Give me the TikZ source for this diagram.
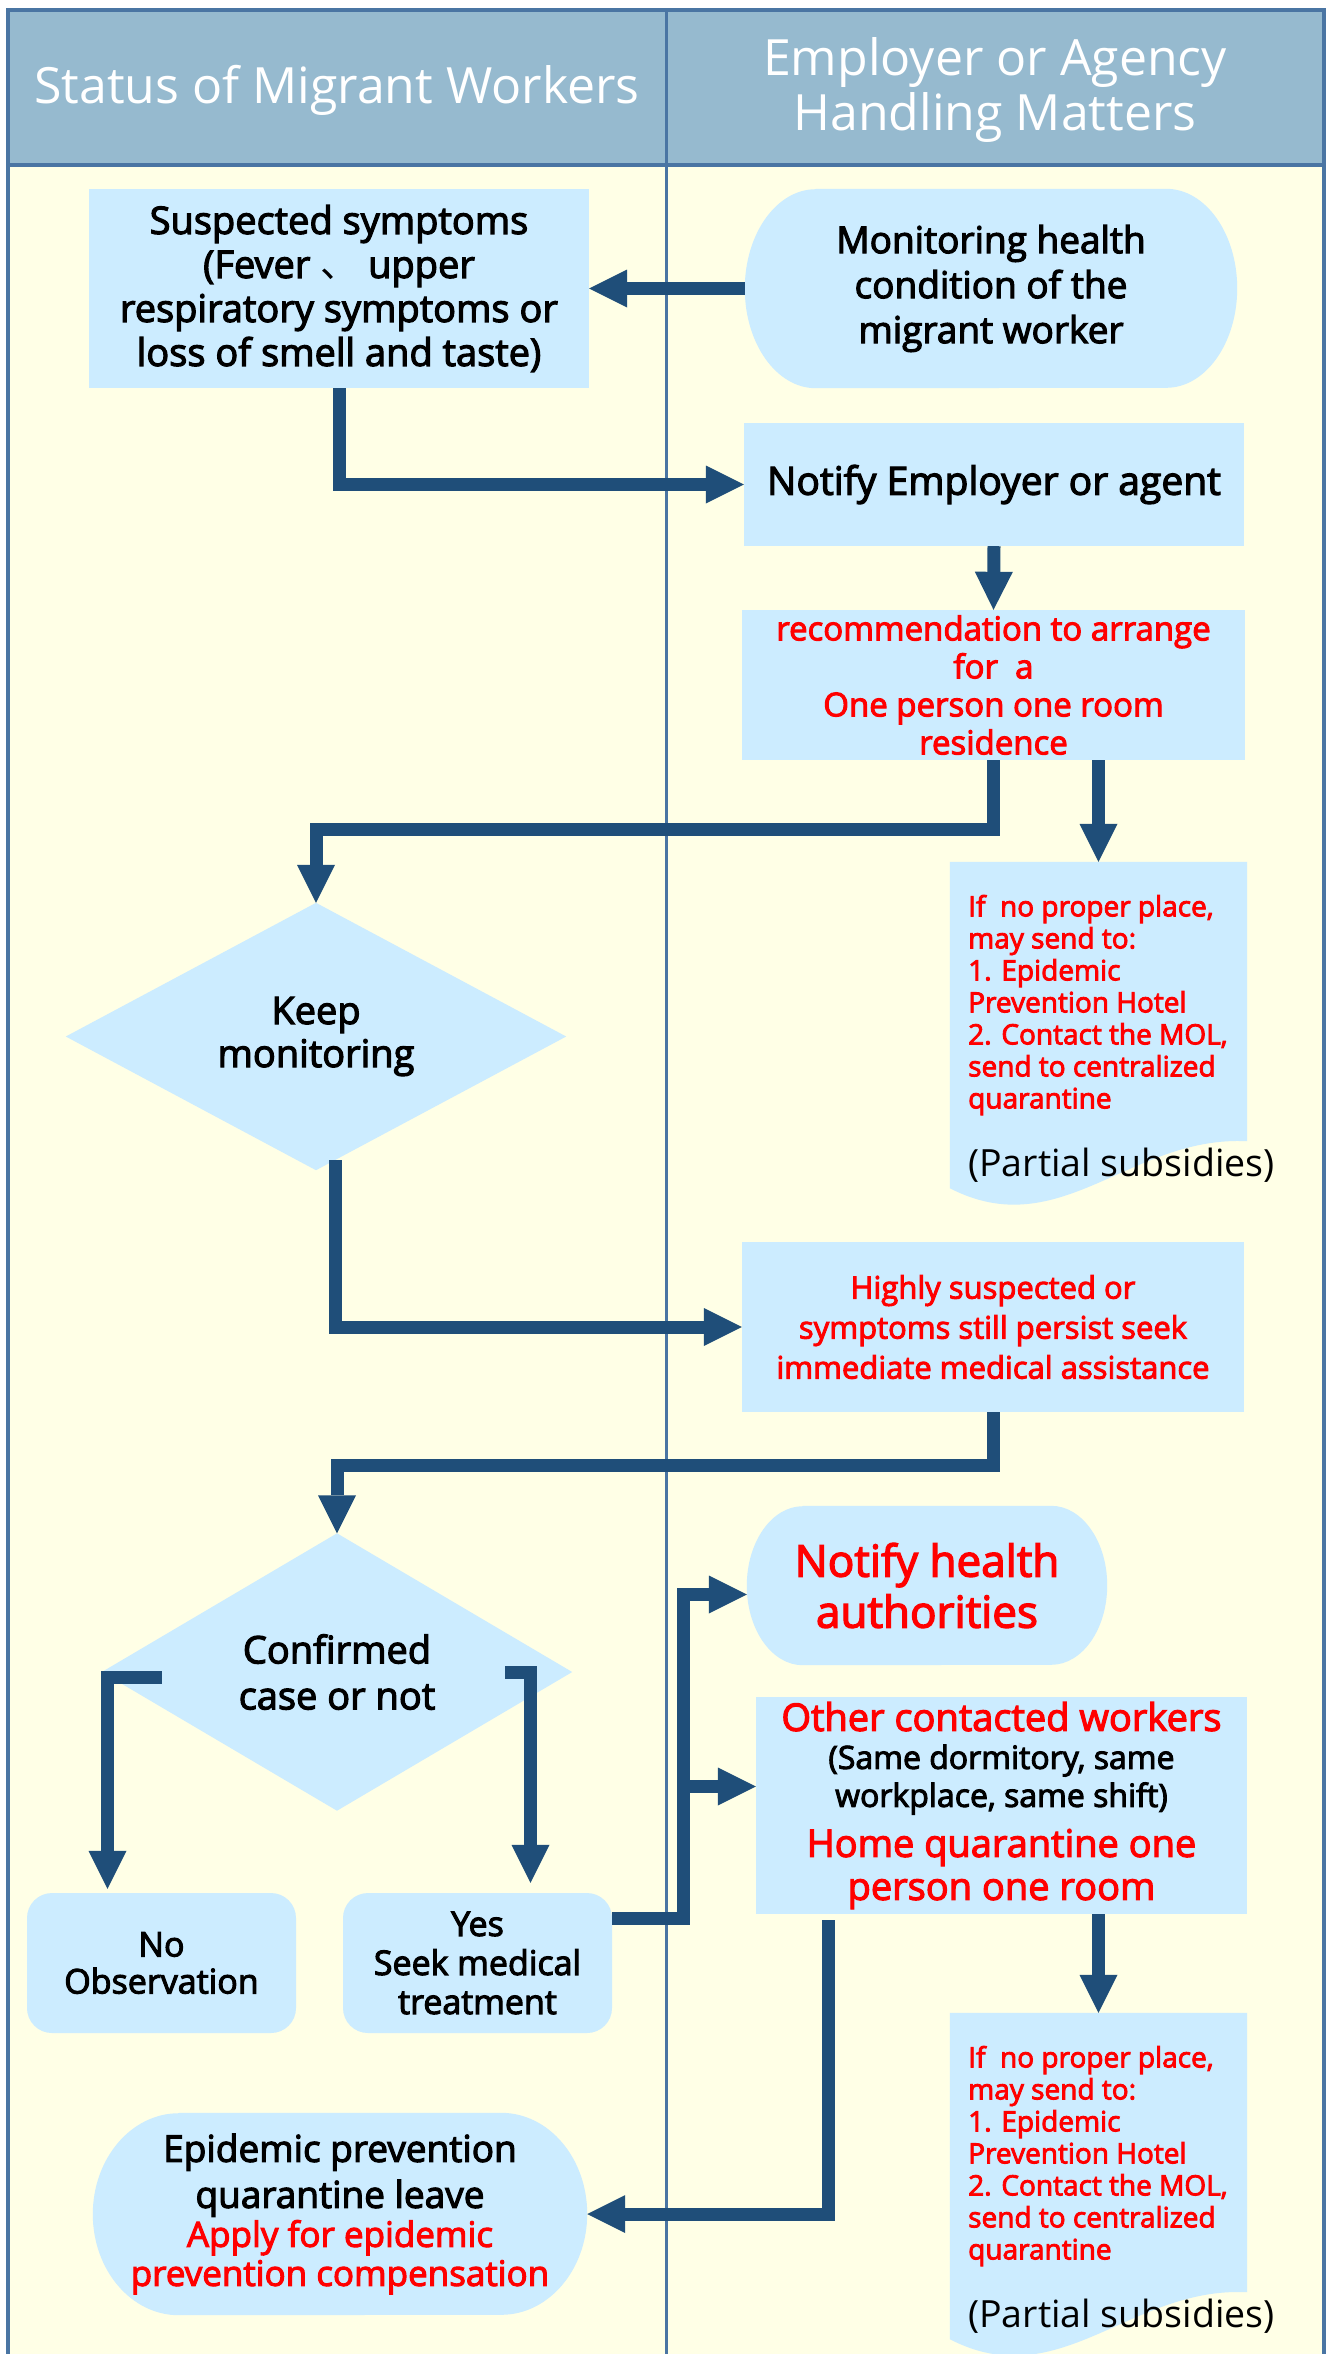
\documentclass[tikz,border=0pt]{standalone}
\usepackage{fontspec}
\setmainfont{Open Sans}
\newfontfamily\semib{Open Sans}[FakeBold=3]
\newfontfamily\cjkf{Noto Sans CJK SC}
\usetikzlibrary{arrows.meta,backgrounds,calc}
\definecolor{bgyellow}{RGB}{255,255,230}
\definecolor{hdrfill}{RGB}{150,186,207}
\definecolor{framecol}{RGB}{74,117,163}
\definecolor{boxfill}{RGB}{204,236,255}
\definecolor{arrowblue}{RGB}{31,78,121}

\newcommand\stadfill[3]{%
  \fill[boxfill] ([xshift=#2]#1.north west) -- ([xshift=-#2]#1.north east)
    arc[start angle=90,end angle=-90,x radius=#2,y radius=#3]
    -- ([xshift=#2]#1.south west)
    arc[start angle=270,end angle=90,x radius=#2,y radius=#3] -- cycle;}
\newcommand\docfill[1]{%
  \fill[boxfill] (#1.north west) -- (#1.north east) -- ([yshift=47pt]#1.south east)
    .. controls ([shift={(-117pt,53pt)}]#1.south east) and ([shift={(-187pt,-57pt)}]#1.south east) .. (#1.south west) -- cycle;}

\tikzset{
  box/.style={fill=boxfill, inner sep=0pt, align=center, font=\semib\fontsize{38}{44}\selectfont},
  shapebox/.style={inner sep=0pt, align=center, font=\semib\fontsize{38}{44}\selectfont},
  redtext/.style={text=red},
  hdr/.style={text=white, align=center, inner sep=0pt, font=\fontsize{50}{55}\selectfont},
  doctext/.style={anchor=west, align=left, inner sep=0pt, text=red, font=\semib\fontsize{28}{32}\selectfont},
  partial/.style={anchor=west, inner sep=0pt, font=\fontsize{37.5}{44}\selectfont},
  arr/.style={color=arrowblue, line width=13pt, -{Triangle[length=38pt,width=38pt,line width=0pt]}},
}

\begin{document}
\begin{tikzpicture}[x=1pt,y=-1pt]
\useasboundingbox (0,0) rectangle (1333,2354);

% header
\node[hdr] (h1) at (337,90) {Status of Migrant Workers};
\node[hdr] (h2) at (995,90) {Employer or Agency\\Handling Matters};

% nodes
\node[box, minimum width=500pt, minimum height=199pt] (susp) at (339,288.5)
  {Suspected symptoms\\(Fever {\cjkf 、} upper\\respiratory symptoms or\\loss of smell and taste)};
\node[shapebox, minimum width=492pt, minimum height=199pt, font=\semib\fontsize{37}{45}\selectfont] (mon) at (991,288.5)
  {Monitoring health\\condition of the\\migrant worker};
\node[box, minimum width=500pt, minimum height=123pt, font=\semib\fontsize{39}{44}\selectfont] (notify) at (994,484.5)
  {Notify Employer or agent};
\node[box, redtext, minimum width=503pt, minimum height=150pt, font=\semib\fontsize{33}{38}\selectfont] (rec) at (993.5,685)
  {recommendation to arrange\\for\ \ a\\One person one room\\residence};
\node[shapebox, minimum width=297pt, minimum height=326pt] (doca) at (1098.5,1025) {};
\node[doctext] (dta) at (968,1005)
  {If\ \ no proper place,\\may send to:\\1. Epidemic\\Prevention Hotel\\2. Contact the MOL,\\send to centralized\\quarantine};
\node[partial] (pa) at (968,1165) {(Partial subsidies)};
\node[shapebox, minimum width=500pt, minimum height=267pt, font=\semib\fontsize{38}{43}\selectfont] (keep) at (316,1036.5)
  {Keep\\monitoring};
\node[box, redtext, minimum width=502pt, minimum height=170pt, font=\semib\fontsize{31}{40}\selectfont] (high) at (993,1327)
  {Highly suspected or\\symptoms still persist seek\\immediate medical assistance};
\node[shapebox, minimum width=470pt, minimum height=277pt, font=\semib\fontsize{38}{46}\selectfont] (conf) at (337,1672)
  {Confirmed\\case or not};
\node[shapebox, redtext, minimum width=360pt, minimum height=159pt, font=\semib\fontsize{44}{51}\selectfont] (health) at (927,1585.5)
  {Notify health\\authorities};
\node[box, minimum width=491pt, minimum height=217pt, font=\semib\fontsize{38}{38}\selectfont] (other) at (1001.5,1805.5)
  {{\color{red}Other contacted workers}\\
   {\fontsize{32}{38}\selectfont (Same dormitory, same}\\
   {\fontsize{32}{38}\selectfont workplace, same shift)}\\[12pt]
   {\color{red}Home quarantine one}\\[5pt]
   {\color{red}person one room}};
\node[box, rounded corners=25pt, minimum width=269pt, minimum height=140pt, font=\semib\fontsize{34}{37}\selectfont] (nobox) at (161.5,1963)
  {No\\Observation};
\node[box, rounded corners=25pt, minimum width=269pt, minimum height=140pt, font=\semib\fontsize{34}{39}\selectfont] (yesbox) at (477.5,1963)
  {Yes\\Seek medical\\treatment};
\node[shapebox, minimum width=494pt, minimum height=202pt, font=\semib\fontsize{37}{39}\selectfont] (epi) at (340,2214)
  {Epidemic prevention\\[7pt]quarantine leave\\
   {\color{red}\fontsize{35}{39}\selectfont Apply for epidemic}\\
   {\color{red}\fontsize{35}{39}\selectfont prevention compensation}};
\node[shapebox, minimum width=297pt, minimum height=326pt] (docb) at (1098.5,2176) {};
\node[doctext] (dtb) at (968,2156)
  {If\ \ no proper place,\\may send to:\\1. Epidemic\\Prevention Hotel\\2. Contact the MOL,\\send to centralized\\quarantine};
\node[partial] (pb) at (968,2316) {(Partial subsidies)};

% connectors
\draw[arr] (mon.west) -- (susp.east);
\draw[arr] (susp.south) |- (notify.west);
\draw[arr] (notify.south) -- (rec.north);
\draw[arr] (rec.south) -- ++(0,69) -| (keep.north);
\draw[arr] (rec.south -| doca.north) -- (doca.north);
\draw[arr] ([xshift=19pt,yshift=10pt]keep.south) |- (high.west);
\draw[arr] (high.south) -- ++(0,53) -| (conf.north);
\draw[arr, shorten >=4pt] ([xshift=60pt,yshift=-5pt]conf.west) -| ([xshift=-54pt]nobox.north);
\draw[arr, shorten >=10pt] ([xshift=-67pt]conf.east) -| ([xshift=53pt]yesbox.north);
\draw[arr] ([yshift=45pt]yesbox.east) -- ++(71,0) coordinate (jn) |- ([yshift=-9pt]health.west);
\draw[arr] (jn) |- ([yshift=19pt]other.west);
\draw[arr] ([xshift=-173pt,yshift=-6pt]other.south) |- (epi.east);
\draw[arr] (other.south -| docb.north) -- (docb.north);

% background
\begin{scope}[on background layer]
  \fill[white] (0,0) rectangle (1333,2354);
  \fill[bgyellow] (8,165) rectangle (1324,2360);
  \fill[hdrfill] (8,10) rectangle (1324,165);
  \stadfill{mon}{71pt}{99.5pt}
  \stadfill{health}{56pt}{79.5pt}
  \stadfill{epi}{86pt}{101pt}
  \fill[boxfill] (keep.north) -- (keep.east) -- (keep.south) -- (keep.west) -- cycle;
  \fill[boxfill] (conf.north) -- (conf.east) -- (conf.south) -- (conf.west) -- cycle;
  \docfill{doca}
  \docfill{docb}
  \draw[framecol, line width=4pt] (8,2360) -- (8,10) -- (1324,10) -- (1324,2360);
  \draw[framecol, line width=4pt] (8,165) -- (1324,165);
  \draw[framecol, line width=3pt] (666,10) -- (666,2360);
\end{scope}
\end{tikzpicture}
\end{document}
